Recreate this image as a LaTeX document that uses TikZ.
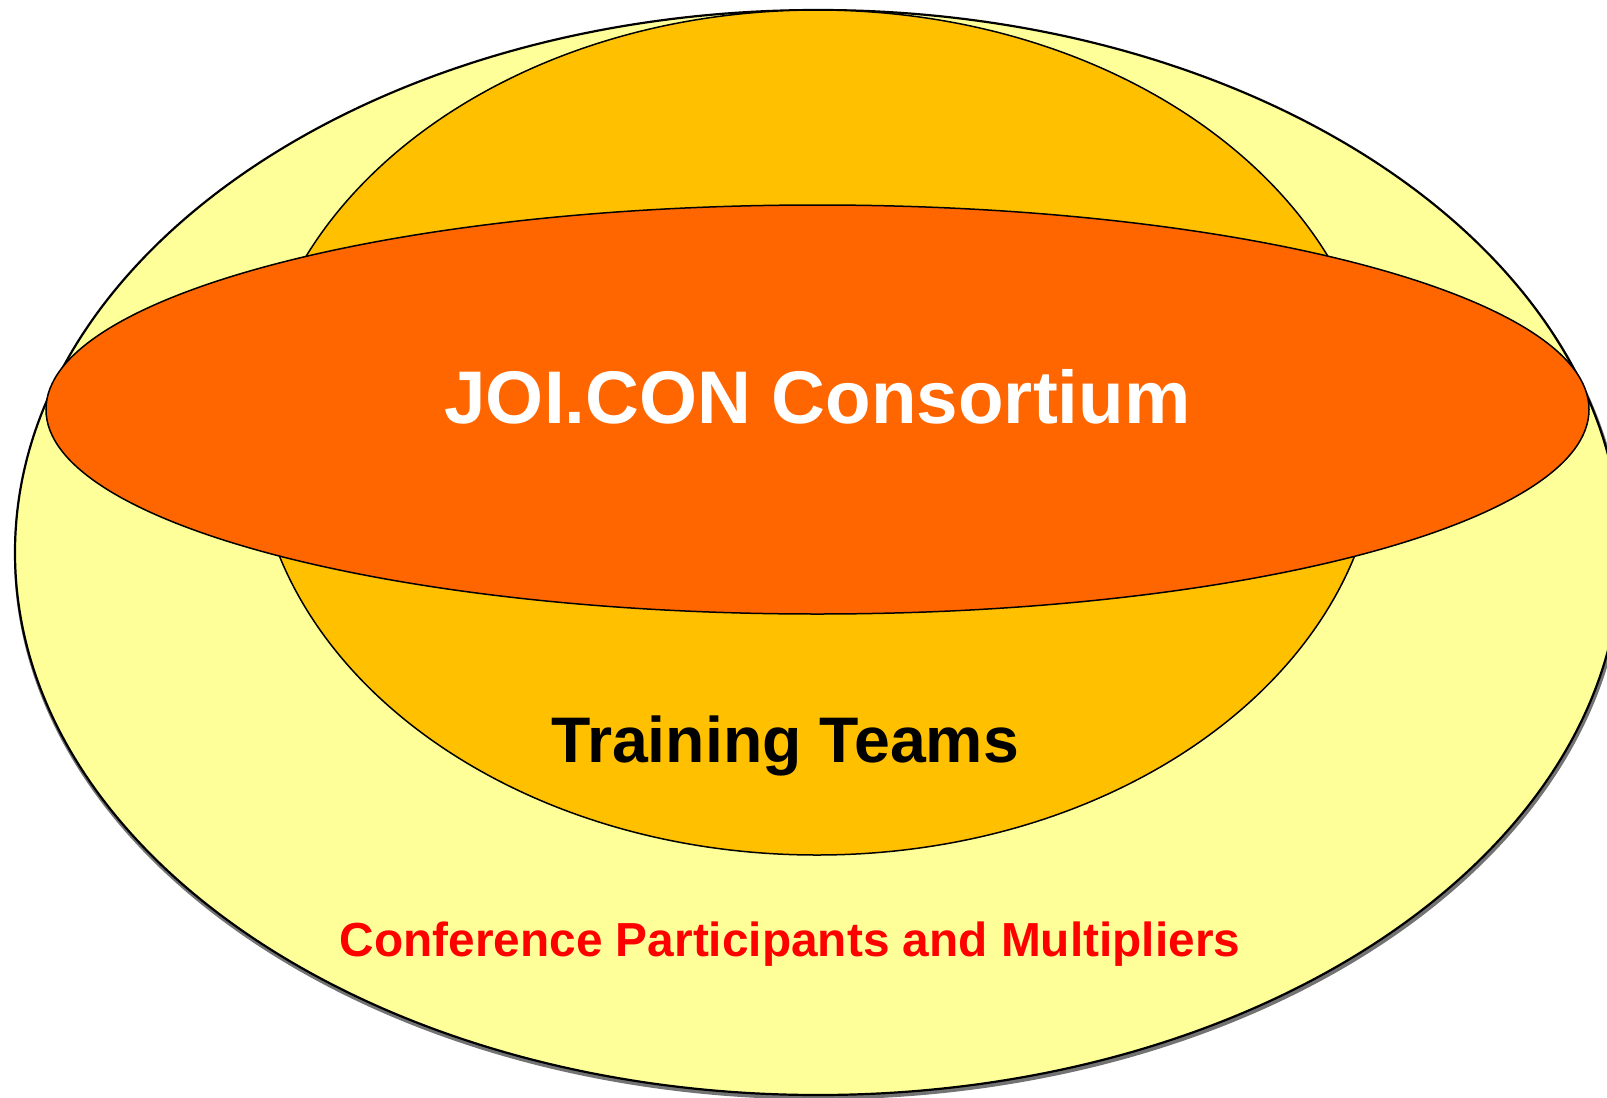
\documentclass[tikz,border=0pt]{standalone}
\usepackage{fontspec}
\setmainfont{Liberation Sans}
\usetikzlibrary{shapes.geometric}
\definecolor{outerfill}{RGB}{255,255,153}
\definecolor{midfill}{RGB}{255,192,0}
\definecolor{innerfill}{RGB}{255,102,0}
\definecolor{redtext}{RGB}{255,0,0}
\tikzset{
  blob/.style={ellipse, inner sep=0pt, outer sep=0pt, draw=black, line width=0.75pt},
  label/.style={font=\bfseries, anchor=base, inner sep=0pt}
}
\begin{document}
\begin{tikzpicture}[x=0.5pt, y=-0.5pt]
\useasboundingbox (0,0) rectangle (1607,1098);
\clip (0,0) rectangle (1607,1098);
% shadow of outer ellipse
\node[ellipse, inner sep=0pt, fill=black!55, minimum width=805pt, minimum height=544pt] (shadow) at (819,555.5) {};
% outer ellipse
\node[blob, fill=outerfill, line width=1.1pt, minimum width=803pt, minimum height=542.5pt] (outer) at (818,552.5) {};
% middle ellipse
\node[blob, fill=midfill, minimum width=562pt, minimum height=422.5pt] (middle) at (817,432.5) {};
% inner ellipse
\node[blob, fill=innerfill, minimum width=771.5pt, minimum height=204.5pt] (inner) at (817.5,409.5) {};
% texts
\node[label, text=white, font=\fontsize{37.3}{44}\selectfont\bfseries] (t1) at (817.5,423) {JOI.CON Consortium};
\node[label, text=black, font=\fontsize{32.2}{38}\selectfont\bfseries] (t2) at (785,762) {Training Teams};
\node[label, text=redtext, font=\fontsize{23.9}{28}\selectfont\bfseries] (t3) at (790,956) {Conference Participants and Multipliers};
\end{tikzpicture}
\end{document}
